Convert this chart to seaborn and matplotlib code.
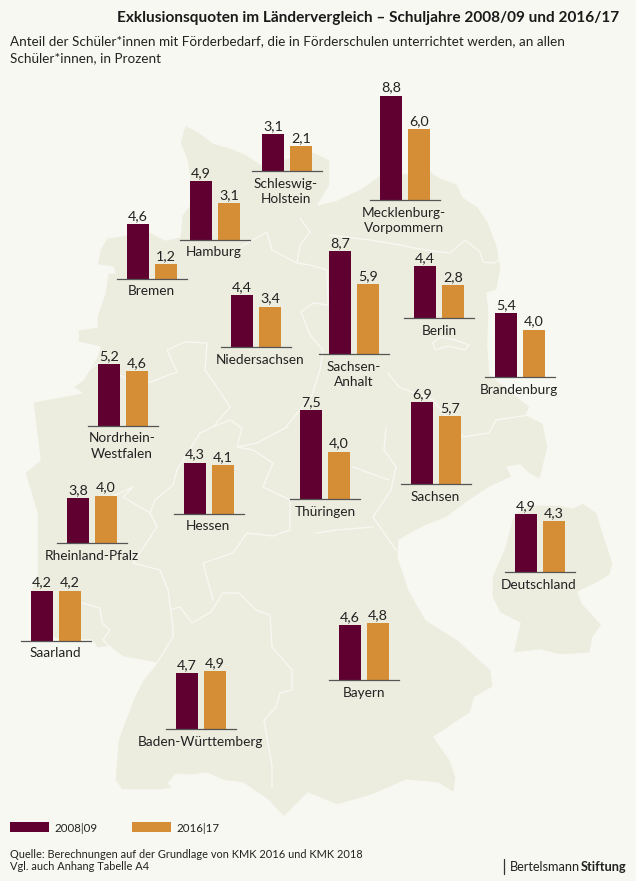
import matplotlib
matplotlib.use("Agg")
import matplotlib.pyplot as plt
import seaborn as sns
import pandas as pd
from matplotlib.patches import Polygon, Rectangle

# ---------- data ----------
years = ["2008|09", "2016|17"]
states = ["Bremen", "Hamburg", "Schleswig-\nHolstein", "Mecklenburg-\nVorpommern", "Niedersachsen",
          "Sachsen-\nAnhalt", "Berlin", "Brandenburg", "Nordrhein-\nWestfalen", "Hessen", "Thüringen",
          "Sachsen", "Rheinland-Pfalz", "Deutschland", "Saarland", "Baden-Württemberg", "Bayern"]
values_2008 = [4.6, 4.9, 3.1, 8.8, 4.4, 8.7, 4.4, 5.4, 5.2, 4.3, 7.5, 6.9, 3.8, 4.9, 4.2, 4.7, 4.6]
values_2016 = [1.2, 3.1, 2.1, 6.0, 3.4, 5.9, 2.8, 4.0, 4.6, 4.1, 4.0, 5.7, 4.0, 4.3, 4.2, 4.9, 4.8]

# ---------- layout (pixels) ----------
W, H = 636, 881
panel_left = [117, 180, 252, 370, 221, 319, 404, 485, 88, 174, 290, 401, 57, 505, 21, 166, 329]
panel_base = [278.5, 239.5, 171, 200, 347, 354, 318, 377, 425.5, 513.5, 499, 484, 543, 572, 640.5, 729, 680]
label_centre = [151, 214, 286, 404, 260, 354, 439, 519, 122, 208, 325, 435, 92, 539, 55.6, 200.4, 363.5]
PANEL_W = 70
PX_PER_UNIT = 11.85
YMAX = 10

BG = "#F8F8F2"
LAND = "#ECECDF"
DARK = "#5F0030"
ORANGE = "#D68E36"
INK = "#222222"

outline = [(185,125),(200,133),(213,143),(233,149),(247,155),(262,165),(313,152),(330,160),(330,185),(318,205),
 (337,200),(362,188),(369,183),(379,176),(430,171),(440,178),(457,184),(463,197),(478,207),(488,222),(497,245),
 (501,268),(497,290),(487,293),(489,310),(488,345),(490,375),(510,390),(530,407),(526,415),(543,423),(548,447),
 (540,480),(528,473),(520,465),(507,467),(512,477),(490,487),(470,500),(447,517),(423,527),(399,540),(398,557),
 (409,590),(426,620),(458,640),(491,670),(493,687),(475,697),(470,713),(434,737),(450,760),(456,777),(454,793),
 (438,783),(406,780),(372,795),(337,805),(308,793),(284,817),(268,800),(243,783),(219,780),(178,787),(162,790),
 (122,790),(115,780),(118,740),(133,700),(143,680),(157,663),(123,657),(110,647),(97,648),(92,640),(60,640),
 (31,632),(31,590),(37,575),(37,513),(25,473),(40,460),(33,402),(82,393),(73,387),(83,380),(97,357),(100,347),
 (78,342),(78,330),(97,327),(97,317),(105,293),(108,273),(115,273),(113,267),(97,265),(100,250),(107,238),
 (127,235),(150,232),(165,240),(180,237),(182,215),(190,205),(190,180),(187,160),(180,143)]

mini_germany = [(515,513),(530,505),(560,505),(573,508),(583,503),(597,513),(603,533),(613,563),(610,575),(597,583),
 (578,592),(582,603),(602,625),(593,637),(590,653),(560,655),(540,650),(513,653),(520,623),(500,613),(492,597),
 (492,577),(505,547),(512,520)]

lake = [(168,783),(176,774),(190,775),(207,773),(227,782),(213,785),(190,785),(175,790)]

borders = [
 [(240,247),(267,232),(272,250),(297,263),(310,265),(327,270)],
 [(300,218),(310,232),(300,245),(297,263)],
 [(327,270),(328,305),(313,303),(301,312),(310,335),(323,350),(320,370),(312,395),(286,427)],
 [(330,235),(370,240),(400,245),(425,250),(450,253),(465,240),(480,252),(483,262),(495,263),(500,258)],
 [(388,373),(399,387),(433,400),(463,437),(489,433),(496,420),(529,415)],
 [(433,343),(440,337),(455,340),(469,345),(465,350),(448,346),(435,350),(433,343)],
 [(386,427),(384,450),(396,467),(391,490),(373,517),(396,550)],
 [(353,467),(389,480)],
 [(316,533),(336,530),(373,527)],
 [(77,380),(98,363),(125,378),(150,382),(177,372),(167,350),(185,342),(207,343),(205,370),(217,387),(230,407),(213,427),(230,420),(242,428),(237,447),(257,443),(287,427)],
 [(237,447),(253,450),(273,463),(263,487),(290,500),(290,530),(273,536),(247,533),(233,553),(203,563),(213,600)],
 [(200,433),(213,427)],
 [(200,433),(177,470),(173,485),(155,500),(150,513),(157,527),(133,563),(160,570),(168,590),(173,627),(173,637),(157,663)],
 [(133,487),(123,497),(150,513)],
 [(105,500),(133,487)],
 [(170,610),(180,607),(192,623),(211,612),(223,593),(239,593),(256,610),(270,615),(272,647),(292,670),(292,690),(280,693),(276,707),(264,720),(272,767),(272,787)],
 [(82,603),(100,608),(102,623),(110,630),(103,640),(110,647)],
]

# ---------- figure ----------
sns.set_theme(style="white")
plt.rcParams["font.family"] = ["Lato", "DejaVu Sans"]
plt.rcParams["text.color"] = INK
fig = plt.figure(figsize=(W / 100, H / 100), dpi=100, facecolor=BG)

canvas = fig.add_axes([0, 0, 1, 1])
canvas.set_xlim(0, W)
canvas.set_ylim(H, 0)
canvas.axis("off")
canvas.add_patch(Polygon(outline, closed=True, facecolor=LAND, edgecolor=BG, lw=1.0))
canvas.add_patch(Polygon(mini_germany, closed=True, facecolor=LAND, edgecolor=BG, lw=1.0))
canvas.add_patch(Polygon(lake, closed=True, facecolor=BG, edgecolor=BG, lw=0.8))
for line in borders:
    xs, ys = zip(*line)
    canvas.plot(xs, ys, color=BG, lw=1.0, solid_joinstyle="round")

fmt = lambda v: f"{v:.1f}".replace(".", ",")
palette = dict(zip(years, [DARK, ORANGE]))

for state, a, b, left, base, centre in zip(states, values_2008, values_2016, panel_left, panel_base, label_centre):
    ax = fig.add_axes([left / W, 1 - base / H, PANEL_W / W, YMAX * PX_PER_UNIT / H])
    df = pd.DataFrame({"Jahr": years, "Quote": [a, b]})
    sns.barplot(data=df, x="Jahr", y="Quote", hue="Jahr", palette=palette, width=0.786,
                saturation=1, legend=False, linewidth=0, ax=ax)
    for c in ax.containers:
        ax.bar_label(c, fmt=fmt, padding=1.5, fontsize=10.3, color=INK)
    ax.set_xlim(-0.75, 1.75)
    ax.set_ylim(0, YMAX)
    ax.set_facecolor("none")
    ax.set_xticks([])
    ax.set_yticks([])
    ax.set_ylabel("")
    ax.set_xlabel(state, fontsize=9.8, color=INK, labelpad=5, linespacing=1.35)
    ax.xaxis.label.set_x((centre - left) / PANEL_W)
    sns.despine(ax=ax, left=True)
    ax.spines["bottom"].set_color("#555555")
    ax.spines["bottom"].set_linewidth(0.9)

# ---------- texts ----------
def label(x, y, s, **kw):
    kw.setdefault("va", "center")
    return canvas.text(x, y, s, **kw)

label(117, 18, "Exklusionsquoten im Ländervergleich – Schuljahre 2008/09 und 2016/17",
      fontsize=11.1, fontweight="bold", color="#1a1a1a")
label(10, 41, "Anteil der Schüler*innen mit Förderbedarf, die in Förderschulen unterrichtet werden, an allen",
      fontsize=9.76)
label(10, 58, "Schüler*innen, in Prozent", fontsize=9.76)

# legend
for x, year, colour in zip([10, 132], years, [DARK, ORANGE]):
    canvas.add_patch(Rectangle((x, 822), 39, 10, facecolor=colour, edgecolor="none"))
    label(x + 44, 828, year, fontsize=8.3)

label(10, 854, "Quelle: Berechnungen auf der Grundlage von KMK 2016 und KMK 2018", fontsize=7.95)
label(10, 867, "Vgl. auch Anhang Tabelle A4", fontsize=7.95)

canvas.plot([504, 504], [859, 874], color="#333333", lw=0.9)
t = label(510, 867, "Bertelsmann", fontsize=9.2)
fig.canvas.draw()
bb = t.get_window_extent()
label(510 + bb.width + 0.5, 867, "Stiftung", fontsize=9.2, fontweight="bold")

fig.savefig("out.png", dpi=100, facecolor=BG)
